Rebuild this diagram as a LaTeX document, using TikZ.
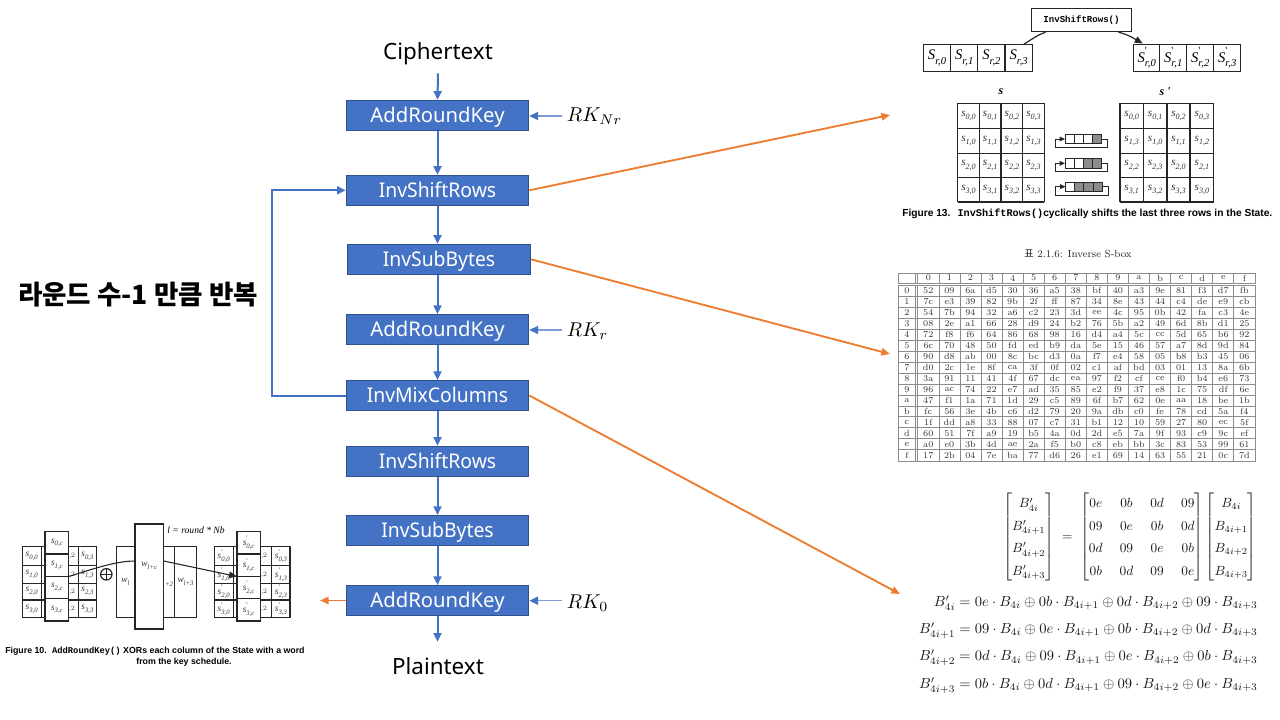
\documentclass[tikz,border=0pt]{standalone}
\usepackage{amsmath}
\usepackage{fontspec}
\usetikzlibrary{arrows.meta}
\newfontfamily\nsans{Noto Sans}
\newfontfamily\krfont{Noto Sans CJK KR}
\newfontfamily\tms{Liberation Serif}
\newfontfamily\hlv{Liberation Sans}
\newfontfamily\crr{Liberation Mono}
\newcommand\ssb[2]{{\tms\itshape #1}\raisebox{-.3em}{\scalebox{.72}{\tms\itshape #2}}}
\newcommand\ssp[2]{{\tms\itshape #1}\rlap{\raisebox{.5em}{\scalebox{.75}{\tms '}}}\raisebox{-.3em}{\scalebox{.72}{\tms\itshape #2}}}
\newcommand\nar[1]{\scalebox{.955}[1]{#1}}
\definecolor{pblue}{HTML}{4472C4}
\definecolor{pedge}{HTML}{2F528F}
\definecolor{porange}{HTML}{ED7D31}
\definecolor{plight}{HTML}{7C9CD6}
\definecolor{tline}{gray}{0.55}
\tikzset{
  stage/.style={draw=pedge,fill=pblue,line width=.75pt,text=white,minimum width=137pt,minimum height=22.5pt,inner sep=0pt,text height=14pt,text depth=3pt,font=\nsans\fontsize{15.2}{18}\selectfont},
  flowlabel/.style={inner sep=0pt,text height=15pt,text depth=3pt,font=\nsans\fontsize{16.8}{20}\selectfont},
  flow/.style={draw=pblue,line width=1.5pt,-{Triangle[length=6.5pt,width=6pt]}},
  keyflow/.style={draw=plight,line width=1.1pt,-{Triangle[length=6.5pt,width=6pt,color=pblue]}},
  jump/.style={draw=porange,line width=1.4pt,-{Triangle[length=6.5pt,width=5.5pt]}},
  fig/.style={draw=black!85,line width=.9pt},
  cellA/.style={inner sep=0pt,text=black!80,font=\fontsize{8.4}{9}\selectfont},
  cellB/.style={inner sep=0pt,text=black!80,font=\fontsize{7}{8}\selectfont},
  rowcell/.style={inner sep=0pt,font=\fontsize{11}{12}\selectfont},
  hexcell/.style={inner sep=0pt,text=black!80,font=\fontsize{6.7}{7}\selectfont},
  caption/.style={inner sep=0pt,font=\hlv\bfseries\fontsize{6.6}{8}\selectfont},
  tl/.style={draw=tline,line width=.6pt},
  shiftarr/.style={draw=black!85,line width=.7pt,-{Triangle[length=4pt,width=3.5pt]}},
  eqn/.style={inner sep=0pt,anchor=east,text=black!90}
}
\begin{document}
\begin{tikzpicture}[x=0.75pt,y=-0.75pt]
\useasboundingbox (0,0) rectangle (1280,720);
\fill[white] (0,0) rectangle (1280,720);

% ---------- main flow ----------
\node[flowlabel,minimum height=31.5pt] (cipher) at (438,52) {Ciphertext};
\node[stage] (ark1) at (437.5,115.3) {AddRoundKey};
\node[stage] (isr1) at (437.5,190.3) {\nar{InvShiftRows}};
\node[stage] (isb1) at (439,259.3) {\nar{InvSubBytes}};
\node[stage] (ark2) at (437.5,329.5) {AddRoundKey};
\node[stage] (imc)  at (437.5,395.5) {\nar{InvMixColumns}};
\node[stage] (isr2) at (437.5,461.3) {\nar{InvShiftRows}};
\node[stage] (isb2) at (437.5,530.5) {\nar{InvSubBytes}};
\node[stage] (ark3) at (437.5,600.5) {AddRoundKey};
\node[flowlabel,minimum height=36pt] (plain) at (438,666) {Plaintext};

\draw[flow] (cipher.south) -- (ark1.north);
\draw[flow] (ark1) -- (isr1);
\draw[flow] (isr1) -- (isb1.north -| isr1);
\draw[flow] (isb1.south -| isr1) -- (ark2.north);
\draw[flow] (ark2) -- (imc);
\draw[flow] (imc) -- (isr2);
\draw[flow] (isr2) -- (isb2);
\draw[flow] (isb2) -- (ark3);
\draw[flow] (ark3.south) -- (plain.north -| ark3);

\node[inner sep=0pt,anchor=west] (rk1) at (566.7,116) {\scalebox{1.5}{$RK_{Nr}$}};
\node[inner sep=0pt,anchor=west] (rk2) at (566.7,331) {\scalebox{1.5}{$RK_{r}$}};
\node[inner sep=0pt,anchor=west] (rk3) at (566.7,603) {\scalebox{1.5}{$RK_{0}$}};
\coordinate (rk1s) at (562,116);
\coordinate (rk2s) at (562,330);
\coordinate (rk3s) at (562,600.7);
\draw[keyflow] (rk1s) -- (rk1s -| ark1.east);
\draw[keyflow] (rk2s) -- (rk2s -| ark2.east);
\draw[keyflow] (rk3s) -- (rk3s -| ark3.east);

\coordinate (loopa) at (272,395.5);
\coordinate (loopb) at (272,190.3);
\draw[flow,line width=1.5pt] (imc.west) -- (loopa) -- (loopb) -- (isr1.west);
\node[inner sep=0pt,font=\krfont\bfseries\fontsize{19.9}{24}\selectfont] (repeat) at (138,295) {라운드 수-1 만큼 반복};

\coordinate (t1) at (890,115);
\coordinate (t2) at (890,354);
\coordinate (t3) at (900,594);
\coordinate (t4) at (320,600.5);
\draw[jump] (isr1.east) -- (t1);
\draw[jump] (isb1.east) -- (t2);
\draw[jump] (imc.east) -- (t3);
\draw[jump] (ark3.west) -- (t4);

% ---------- top right: InvShiftRows figure ----------
\node[fig,minimum width=75.5pt,minimum height=17pt,inner sep=0pt,font=\crr\bfseries\fontsize{6.8}{8}\selectfont] (isrbox) at (1081.5,20.2) {InvShiftRows()};
\foreach \xa/\xb/\ci in {923.3/950.7/0,950.7/977.7/1,977.7/1005/2,1005/1032.3/3}{
  \draw[fig] (\xa,44.3) rectangle node[rowcell] (rl\ci) {\ssb{S}{r,\ci}} (\xb,71.7);
}
\foreach \xa/\xb/\ci in {1133.7/1159.7/0,1159.7/1186.7/1,1186.7/1213.7/2,1213.7/1240.7/3}{
  \draw[fig] (\xa,44.3) rectangle node[rowcell] (rr\ci) {\ssp{S}{r,\ci}} (\xb,71.7);
}
\draw[fig] (isrbox.south west) ++(15,0) to[out=200,in=30] (1024,44);
\draw[fig,-{Triangle[length=6pt,width=5pt]}] (isrbox.south east) ++(-14,0) to[out=-15,in=150] (1142.7,43.5);
\node[inner sep=0pt,font=\tms\bfseries\itshape\fontsize{9}{10}\selectfont] (sa) at (1001,92) {s};
\node[inner sep=0pt,font=\tms\bfseries\itshape\fontsize{9}{10}\selectfont] (sb) at (1165,92) {s '};
% grids
\foreach \x in {957.7,979.3,1001,1022.7,1044.3} \draw[fig] (\x,103.3) -- (\x,202);
\foreach \y in {103.3,128.3,153.3,177.7,202} \draw[fig] (957.7,\y) -- (1044.3,\y);
\foreach \x in {1120,1143.3,1167,1190,1213.7} \draw[fig] (\x,103.3) -- (\x,202);
\foreach \y in {103.3,128.3,153.3,177.7,202} \draw[fig] (1120,\y) -- (1213.7,\y);
\foreach \cy [count=\ri from 0] in {115.8,140.8,165.5,189.8}{
  \foreach \cx [count=\ci from 0] in {968.5,990.2,1011.9,1033.5}{
    \node[cellA] (gl\ri\ci) at (\cx,\cy) {\ssb{s}{\ri,\ci}};
  }
  \foreach \cx [count=\ci from 0] in {1131.7,1155.2,1178.5,1201.9}{
    \pgfmathtruncatemacro\sc{mod(\ci-\ri+4,4)}
    \node[cellA] (gr\ri\ci) at (\cx,\cy) {\ssb{s}{\ri,\sc}};
  }
}
% shifters
\foreach \ya/\yb/\yl/\ng/\xs in {134.3/143.7/147/1/1065,158.7/168/171/2/1065,182.3/191/195.3/3/1065.5}{
  \foreach \k in {0,1,2,3}{
    \pgfmathtruncatemacro\isg{\k>=4-\ng ? 1 : 0}
    \ifnum\isg=1
      \draw[fig,line width=.7pt,fill=black!45] ({\xs+\k*9.2},\ya) rectangle ++(9.2,\yb-\ya);
    \else
      \draw[fig,line width=.7pt] ({\xs+\k*9.2},\ya) rectangle ++(9.2,\yb-\ya);
    \fi
  }
  \draw[shiftarr] ({\xs+36.8},{(\ya+\yb)/2}) -- ++(6,0) |- ({\xs-10},\yl) |- (\xs,{(\ya+\yb)/2});
}
\node[caption,anchor=west,font=\hlv\bfseries\fontsize{7.65}{9}\selectfont] (cap13) at (902,213.5) {Figure 13.\hspace{.7em}{\crr InvShiftRows()}cyclically shifts the last three rows in the State.};

% ---------- S-box ----------
\node[inner sep=0pt,font=\fontsize{7.7}{10}\selectfont,text=black!85] (sboxt) at (1078,254) {{\krfont 표} 2.1.6: Inverse S-box};
\draw[tl] (898,273) rectangle (1255,283.5);
\draw[tl] (898,285.5) rectangle (1255,461);
\foreach \x in {917.8,938.9,960,981,1002.1,1023.2,1044.2,1065.3,1086.4,1107.4,1128.5,1149.6,1170.6,1191.7,1212.8,1233.8}{
  \draw[tl] (\x,273) -- (\x,283.5);
  \draw[tl] (\x,285.5) -- (\x,461);
}
\draw[tl] (915.6,273) -- (915.6,283.5);
\draw[tl] (915.6,285.5) -- (915.6,461);
\foreach \n in {0,...,14} \draw[tl] (898,{296.2+\n*10.97}) -- (1255,{296.2+\n*10.97});
\foreach \h [count=\ci from 0] in {0,1,2,3,4,5,6,7,8,9,a,b,c,d,e,f}{
  \node[hexcell] (hd\ci) at ({928.3+\ci*21.07},278) {\h};
  \node[hexcell] (hr\ci) at (907,{290.7+\ci*10.97}) {\h};
}
\foreach \row [count=\ri from 0] in {
 {52,09,6a,d5,30,36,a5,38,bf,40,a3,9e,81,f3,d7,fb},
 {7c,e3,39,82,9b,2f,ff,87,34,8e,43,44,c4,de,e9,cb},
 {54,7b,94,32,a6,c2,23,3d,ee,4c,95,0b,42,fa,c3,4e},
 {08,2e,a1,66,28,d9,24,b2,76,5b,a2,49,6d,8b,d1,25},
 {72,f8,f6,64,86,68,98,16,d4,a4,5c,cc,5d,65,b6,92},
 {6c,70,48,50,fd,ed,b9,da,5e,15,46,57,a7,8d,9d,84},
 {90,d8,ab,00,8c,bc,d3,0a,f7,e4,58,05,b8,b3,45,06},
 {d0,2c,1e,8f,ca,3f,0f,02,c1,af,bd,03,01,13,8a,6b},
 {3a,91,11,41,4f,67,dc,ea,97,f2,cf,ce,f0,b4,e6,73},
 {96,ac,74,22,e7,ad,35,85,e2,f9,37,e8,1c,75,df,6e},
 {47,f1,1a,71,1d,29,c5,89,6f,b7,62,0e,aa,18,be,1b},
 {fc,56,3e,4b,c6,d2,79,20,9a,db,c0,fe,78,cd,5a,f4},
 {1f,dd,a8,33,88,07,c7,31,b1,12,10,59,27,80,ec,5f},
 {60,51,7f,a9,19,b5,4a,0d,2d,e5,7a,9f,93,c9,9c,ef},
 {a0,e0,3b,4d,ae,2a,f5,b0,c8,eb,bb,3c,83,53,99,61},
 {17,2b,04,7e,ba,77,d6,26,e1,69,14,63,55,21,0c,7d}}{
  \foreach \v [count=\ci from 0] in \row {
    \node[hexcell] (hx\ri-\ci) at ({928.3+\ci*21.07},{290.7+\ri*10.97}) {\v};
  }
}

% ---------- matrix equation ----------
\node[inner sep=0pt,text=black!90] (mx) at (1130,537) {\renewcommand\arraystretch{1.4}$\begin{bmatrix}B'_{4i}\\B'_{4i+1}\\B'_{4i+2}\\B'_{4i+3}\end{bmatrix}\hspace{3pt}=\hspace{3pt}\arraycolsep=6.4pt\begin{bmatrix}0e&0b&0d&09\\09&0e&0b&0d\\0d&09&0e&0b\\0b&0d&09&0e\end{bmatrix}\arraycolsep=5pt\begin{bmatrix}B_{4i}\\B_{4i+1}\\B_{4i+2}\\B_{4i+3}\end{bmatrix}$};
\node[eqn] (eq0) at (1258,603) {\scalebox{1.09}{$B'_{4i}=0e\cdot B_{4i}\oplus 0b\cdot B_{4i+1}\oplus 0d\cdot B_{4i+2}\oplus 09\cdot B_{4i+3}$}};
\node[eqn] (eq1) at (1258,630.5) {\scalebox{1.09}{$B'_{4i+1}=09\cdot B_{4i}\oplus 0e\cdot B_{4i+1}\oplus 0b\cdot B_{4i+2}\oplus 0d\cdot B_{4i+3}$}};
\node[eqn] (eq2) at (1258,658) {\scalebox{1.09}{$B'_{4i+2}=0d\cdot B_{4i}\oplus 09\cdot B_{4i+1}\oplus 0e\cdot B_{4i+2}\oplus 0b\cdot B_{4i+3}$}};
\node[eqn] (eq3) at (1258,685.5) {\scalebox{1.09}{$B'_{4i+3}=0b\cdot B_{4i}\oplus 0d\cdot B_{4i+1}\oplus 09\cdot B_{4i+2}\oplus 0e\cdot B_{4i+3}$}};

% ---------- bottom left: AddRoundKey figure ----------
\draw[fig] (22.7,546.7) rectangle (96.7,617.7);
\foreach \x in {41.3,78.3} \draw[fig] (\x,546.7) -- (\x,617.7);
\foreach \y in {565.7,583.3,600} \draw[fig] (22.7,\y) -- (96.7,\y);
\foreach \cy [count=\ri from 0] in {556.2,574.5,591.7,609}{
  \node[cellB] (al\ri) at (31.7,\cy) {\ssb{s}{\ri,0}};
  \node[cellB] (ar\ri) at (87.5,\cy) {\ssb{s}{\ri,3}};
  \node[cellB] (am\ri) at (72,\cy) {\raisebox{-.3em}{\scalebox{.72}{,2}}};
}
\draw[fig] (116.3,546.7) rectangle (196.3,617.7);
\draw[fig] (174.3,546.7) -- (174.3,617.7);
\node[cellB] (wl) at (125.5,582) {\ssb{w}{l}};
\node[cellB] (wp) at (169,584) {\raisebox{-.3em}{\scalebox{.72}{\tms\itshape +2}}};
\node[cellB] (w3) at (185.5,582) {\ssb{w}{l+3}};
\draw[fig] (214.3,546.7) rectangle (290,617.7);
\foreach \x in {233.3,271.3} \draw[fig] (\x,546.7) -- (\x,617.7);
\foreach \y in {565.7,583.3,600} \draw[fig] (214.3,\y) -- (290,\y);
\foreach \cy [count=\ri from 0] in {556.2,574.5,591.7,609}{
  \node[cellB] (bl\ri) at (223.7,\cy) {\ssp{s}{\ri,0}};
  \node[cellB] (br\ri) at (281,\cy) {\ssp{s}{\ri,3}};
  \node[cellB] (bm\ri) at (264,\cy) {\raisebox{-.3em}{\scalebox{.72}{,2}}};
}
\foreach \ya/\yb/\ri in {531.7/554/0,554/576.3/1,576.3/598.7/2,598.7/621/3}{
  \draw[fig,fill=white] (45,\ya) rectangle node[cellB] (cl\ri) {\ssb{s}{\ri,c}} (68.7,\yb);
  \draw[fig,fill=white] (237,\ya) rectangle node[cellB] (cr\ri) {\ssp{s}{\ri,c}} (260.3,\yb);
}
\draw[fig,fill=white] (135,524) rectangle (163.7,629);
\node[cellB] (wc) at (149.3,566) {\ssb{w}{l+c}};
\node[inner sep=0pt,font=\tms\itshape\fontsize{7.2}{8}\selectfont] (lbl) at (196,530) {l = round * Nb};
\draw[fig,fill=white] (106.3,574.3) circle (5.7);
\draw[fig] (100.6,574.3) -- (112,574.3) (106.3,568.6) -- (106.3,580);
\draw[fig,line width=.8pt] (68.7,576.5) .. controls (90,570) and (115,561) .. (135,561);
\draw[fig,line width=.8pt,-{Triangle[length=6pt,width=5pt]}] (163.7,561) -- (237,576.5);
\node[caption,anchor=west] (cap10a) at (5,651.7) {Figure 10.\hspace{.6em}{\crr AddRoundKey()} XORs each column of the State with a word};
\node[caption] (cap10b) at (184,662.7) {from the key schedule.};
\end{tikzpicture}
\end{document}
